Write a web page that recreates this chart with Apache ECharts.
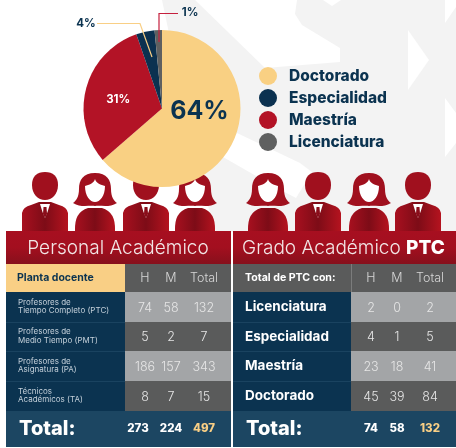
<!DOCTYPE html>
<html><head><meta charset="utf-8">
<style>html,body{margin:0;padding:0;background:#fff}#c{width:456px;height:448px}</style>
<script src="https://cdn.jsdelivr.net/npm/echarts@6/dist/echarts.min.js"></script>
</head><body><div id="c"></div>
<script>
// ---------- data ----------
var pieNames = ['Doctorado','Maestría','Especialidad','Licenciatura'];
var pieValues = [84,41,5,2];
var pieLabels = ['64%','31%','4%','1%'];
var legendOrder = ['Doctorado','Especialidad','Maestría','Licenciatura'];
var leftTitle = 'Personal Académico';
var leftHeader = 'Planta docente';
var leftRows = [['Profesores de','Tiempo Completo (PTC)'],['Profesores de','Medio Tiempo (PMT)'],['Profesores de','Asignatura (PA)'],['Técnicos','Académicos (TA)']];
var leftValues = [[74,58,132],[5,2,7],[186,157,343],[8,7,15]];
var leftTotals = [273,224,497];
var rightHeader = 'Total de PTC con:';
var rightRows = ['Licenciatura','Especialidad','Maestría','Doctorado'];
var rightValues = [[2,0,2],[4,1,5],[23,18,41],[45,39,84]];
var rightTotals = [74,58,132];
var colHeads = ['H','M','Total'];
var totalLabel = 'Total:';
var peopleKinds = ['man','woman','man','woman','woman','man','woman','man'];

// ---------- style ----------
var NAVY='#0b3350', GOLD='#f9cf85', LIGHT='#a3a5a7', DARK='#5a5b5b', BAND='#1c4662';
var FONT='Inter, "Noto Sans", sans-serif';
var g=[];
function rect(x,y,w,h,fill,z){g.push({type:'rect',shape:{x:x,y:y,width:w,height:h},style:{fill:fill},z:z||5,silent:true});}
function text(x,y,s,size,fill,weight,align){g.push({type:'text',x:x,y:y,z:8,silent:true,style:{text:s,fontSize:size,fill:fill,fontWeight:weight||400,fontFamily:FONT,align:align||'center',verticalAlign:'middle'}});}
function poly(p,fill,z){g.push({type:'polygon',shape:{points:p},style:{fill:fill},z:z||1,silent:true});}
var redGrad={type:'linear',x:0,y:0,x2:0,y2:1,colorStops:[{offset:0,color:'#a70f20'},{offset:0.5,color:'#a30f1f'},{offset:1,color:'#87101c'}]};
var personGrad={type:'linear',x:0,y:0,x2:1,y2:0,colorStops:[{offset:0,color:'#a8101f'},{offset:0.5,color:'#7d0c17'},{offset:1,color:'#b5131f'}]};

// watermark
poly([[162,0],[456,0],[456,232],[216,232],[200,180]],'#f3f3f3');
poly([[195,0],[297,0],[295,14],[302,25],[340,48],[340,62],[265,68]],'#ffffff');
poly([[237,133],[300,163],[312,172],[296,198],[277,188],[223,157]],'#ffffff');
poly([[408,30],[429,60],[408,90]],'#ffffff');
poly([[445,98],[456,113],[456,143],[445,157]],'#ffffff');
poly([[445,0],[445,23],[456,7],[456,0]],'#ffffff');
poly([[323,0],[341,0],[332,6]],'#ffffff');

// panels
var rowY=[292,322,351,381,411], BOTTOM=447;
var leftCols=[145,171,204], rightCols=[371,397,430];
var leftTotalCols=[138,171,204];
function panel(x0,x1,split,cols,totalCols,vals,totals){
 rect(x0,231,x1-x0,33,redGrad);
 rect(split,264,x1-split,28,DARK);
 for(var i=0;i<4;i++){
  rect(x0,rowY[i],split-x0,rowY[i+1]-rowY[i],NAVY);
  rect(split,rowY[i],x1-split,rowY[i+1]-rowY[i],i%2?DARK:LIGHT);
  if(i<3) rect(x0,rowY[i+1],split-x0,0.6,'#2a5570',6);
  for(var j=0;j<3;j++) text(cols[j],(rowY[i]+rowY[i+1])/2+1,String(vals[i][j]),12.5,'#e6e6e6',300);
 }
 rect(x0,rowY[4],x1-x0,BOTTOM-rowY[4],BAND);
 colHeads.forEach(function(h,j){text(cols[j],278,h,12.5,'#d6d6d6',300);});
 text(x0+13,429,totalLabel,20,'#fff',800,'left');
 totals.forEach(function(t,j){text(totalCols[j],429,String(t),11.5,j==2?GOLD:'#fff',800);});
}
panel(6,231,125,leftCols,leftTotalCols,leftValues,leftTotals);
panel(233,456,351,rightCols,rightCols,rightValues,rightTotals);
rect(6,264,119,28,GOLD);
rect(233,264,118,28,DARK);
rect(351,264,0.7,28,'#8a8b8b',7);
text(17,278,leftHeader,10.5,NAVY,700,'left');
text(245,278,rightHeader,10.6,'#fff',700,'left');
text(118,248,leftTitle,19,'#f2e6e6',300);
g.push({type:'text',x:242,y:248,z:8,silent:true,style:{text:'{a|Grado Académico }{b|PTC}',fontFamily:FONT,verticalAlign:'middle',rich:{a:{fontSize:19,fill:'#f2e6e6',fontWeight:300,fontFamily:FONT},b:{fontSize:19,fill:'#fff',fontWeight:800,fontFamily:FONT}}}});
leftRows.forEach(function(r,i){
 var m=(rowY[i]+rowY[i+1])/2;
 text(18,m-4.5,r[0],8,'#c4d0da',400,'left');
 text(18,m+4,r[1],8,'#c4d0da',400,'left');
});
rightRows.forEach(function(r,i){text(245,(rowY[i]+rowY[i+1])/2,r,13.5,'#fff',700,'left');});

// pie leader lines
g.push({type:'polyline',z:20,silent:true,shape:{points:[[97,23.5],[140,23.5],[152,57]]},style:{stroke:GOLD,lineWidth:1.2,fill:null}});
g.push({type:'polyline',z:20,silent:true,shape:{points:[[178,13.5],[159,13.5],[159,42]]},style:{stroke:'#c5203e',lineWidth:1.2,fill:null}});

// people pictograms, drawn by a custom series
var peopleX=[45,95,146,195,268,318,369,418];
function pth(d,fill){return {type:'path',shape:{pathData:d},style:{fill:fill}};}
function manParts(c){
 return [
  pth('M'+(c-23)+' 231 L'+(c-23)+' 213 Q'+(c-22)+' 207 '+(c-14)+' 205 L'+(c-6)+' 202 L'+(c+6)+' 202 L'+(c+14)+' 205 Q'+(c+22)+' 207 '+(c+23)+' 213 L'+(c+23)+' 231 Z',personGrad),
  pth('M'+(c-13)+' 185 C'+(c-13)+' 176 '+(c-8)+' 172 '+c+' 172 C'+(c+8)+' 172 '+(c+13)+' 176 '+(c+13)+' 185 C'+(c+13)+' 194 '+(c+7)+' 200 '+c+' 200 C'+(c-7)+' 200 '+(c-13)+' 194 '+(c-13)+' 185 Z','#a0101e'),
  pth('M'+(c-5)+' 204 L'+(c+5)+' 204 L'+(c+2.5)+' 212 L'+c+' 218 L'+(c-2.5)+' 212 Z','#ffffff'),
  pth('M'+(c-1.5)+' 207 L'+(c+1.5)+' 207 L'+(c+2)+' 214 L'+c+' 218 L'+(c-2)+' 214 Z','#8a0d1a')
 ];
}
function womanParts(c){
 return [
  pth('M'+(c-20)+' 231 Q'+(c-21)+' 212 '+(c-7)+' 208 L'+(c+7)+' 208 Q'+(c+21)+' 212 '+(c+20)+' 231 Z',personGrad),
  pth('M'+c+' 173 C'+(c-12)+' 173 '+(c-16)+' 180 '+(c-16)+' 189 C'+(c-16)+' 197 '+(c-19)+' 201 '+(c-22)+' 203 C'+(c-14)+' 208 '+(c-6)+' 205 '+c+' 206 C'+(c+6)+' 205 '+(c+14)+' 208 '+(c+22)+' 203 C'+(c+19)+' 201 '+(c+16)+' 197 '+(c+16)+' 189 C'+(c+16)+' 180 '+(c+12)+' 173 '+c+' 173 Z','#a0101e'),
  pth('M'+c+' 179 C'+(c+1)+' 183 '+(c+6)+' 185 '+(c+10)+' 186 C'+(c+10)+' 196 '+(c+5)+' 202 '+c+' 202 C'+(c-5)+' 202 '+(c-10)+' 196 '+(c-10)+' 186 C'+(c-6)+' 185 '+(c-1)+' 183 '+c+' 179 Z','#ffffff')
 ];
}

var labelStyles=[
 {fontSize:25,fontWeight:700,color:NAVY,off:[-1,-15]},
 {fontSize:11.5,fontWeight:700,color:'#fff',off:[-3,2]},
 {fontSize:11.5,fontWeight:700,color:NAVY,lx:86,ly:24},
 {fontSize:11.5,fontWeight:700,color:NAVY,lx:190,ly:13}
];
var colors={'Doctorado':'#f9d083','Maestría':'#b31326','Especialidad':'#0b3150','Licenciatura':'#5f6060'};
var pieData=pieNames.map(function(n,i){
 var s=labelStyles[i];
 return {name:n,value:pieValues[i],itemStyle:{color:colors[n]},
  label:{formatter:pieLabels[i],position:s.off?'inside':'outside',offset:s.off,fontSize:s.fontSize,fontWeight:s.fontWeight,color:s.color,fontFamily:FONT},
  labelLine:{show:false}};
});
var chart=echarts.init(document.getElementById('c'),null,{renderer:'canvas'});
chart.setOption({
 animation:false,
 backgroundColor:'#fff',
 legend:{orient:'vertical',left:259,top:67,padding:0,data:legendOrder,icon:'circle',itemWidth:18,itemHeight:18,itemGap:4,
  textStyle:{fontSize:15.5,fontWeight:800,color:NAVY,fontFamily:FONT,padding:[0,0,0,7]},selectedMode:false},
 graphic:{elements:g},
 series:[
 {type:'pie',z:3,center:[162,108.5],radius:[0,78.5],startAngle:90,clockwise:true,silent:true,data:pieData,
  labelLayout:function(p){
   var s=labelStyles[p.dataIndex];
   if(s.lx) return {x:s.lx,y:s.ly,align:'center',verticalAlign:'middle'};
  }},
 {type:'custom',coordinateSystem:'none',z:3,silent:true,data:peopleKinds.map(function(k,i){return [i];}),
  renderItem:function(p){
   var k=peopleKinds[p.dataIndex],c=peopleX[p.dataIndex];
   return {type:'group',children:k==='man'?manParts(c):womanParts(c)};
  }}
 ]
});
</script></body></html>
